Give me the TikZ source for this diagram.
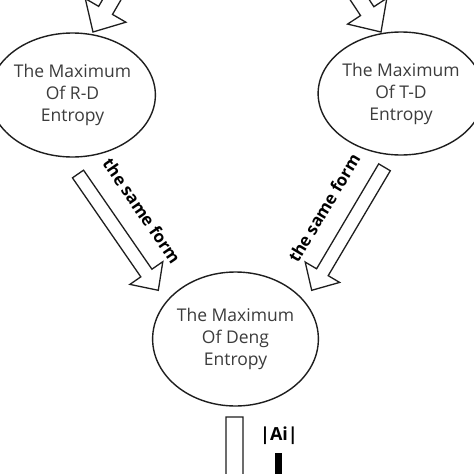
\documentclass[tikz,border=0pt]{standalone}
\usepackage{fontspec}
\setmainfont{Open Sans}
\usetikzlibrary{shapes.geometric,calc}
\definecolor{txtgray}{RGB}{60,60,60}
\definecolor{linec}{RGB}{30,30,30}
\tikzset{
  ent/.style={ellipse, draw=linec, line width=1.4pt, inner sep=0pt, align=center,
    text=txtgray, font=\fontsize{17.5}{22}\selectfont},
  barrowstyle/.style={draw=linec, line width=1.3pt, fill=white, line join=miter},
  formlabel/.style={font=\fontsize{16.8}{18}\selectfont\bfseries, text=black, inner sep=0pt},
  ailabel/.style={font=\fontsize{18}{20}\selectfont\bfseries, text=black, inner sep=0pt},
}
% #1 prefix, #2 tail, #3 tip, #4 half shaft, #5 half head, #6 head length
\newcommand\blockarrow[6]{%
  \path ($(#3)!#6!(#2)$) coordinate (#1h);
  \draw[barrowstyle] (#3) -- ($(#1h)!#5!90:(#3)$) -- ($(#1h)!#4!90:(#3)$)
    -- ($(#2)!#4!90:(#3)$) -- ($(#2)!#4!-90:(#3)$) -- ($(#1h)!#4!-90:(#3)$)
    -- ($(#1h)!#5!-90:(#3)$) -- cycle;
}
\begin{document}
\begin{tikzpicture}[x=1pt,y=-1pt]
  \useasboundingbox (0,0) rectangle (474,474);
  \fill[white] (0,0) rectangle (474,474);
  \clip (0,0) rectangle (474,474);

  % entropy ellipses
  \node[ent, minimum width=141pt, minimum height=124pt] (rd) at (72.5,95)
    {\raisebox{-2pt}{}The Maximum\\Of R-D\\Entropy};
  \node[ent, minimum width=142pt, minimum height=123pt] (td) at (401,93.5)
    {The Maximum\\Of T-D\\Entropy};
  \node[ent, minimum width=147pt, minimum height=134pt] (deng) at (235.5,339)
    {The Maximum\\Of Deng\\Entropy};

  % arrow end points
  \coordinate (tlS) at (158.4,-80.4);
  \coordinate (tlT) at (93,32);
  \coordinate (trS) at (309.4,-76.4);
  \coordinate (trT) at (381,32);
  \coordinate (mlS) at (78,174);
  \coordinate (mlT) at (158.3,290.3);
  \coordinate (mrS) at (384.5,167.3);
  \coordinate (mrT) at (311.7,290.3);
  \coordinate (bS) at (234.5,417);
  \coordinate (bT) at (234.5,560);

  \blockarrow{tl}{tlS}{tlT}{8pt}{23.5pt}{25pt}
  \blockarrow{tr}{trS}{trT}{8pt}{23.5pt}{25pt}
  \blockarrow{ml}{mlS}{mlT}{6.75pt}{20pt}{21pt}
  \blockarrow{mr}{mrS}{mrT}{6.75pt}{20pt}{21pt}
  \blockarrow{bt}{bS}{bT}{8.5pt}{24pt}{25pt}

  % labels
  \node[formlabel, rotate=-55.5] (lf) at (142,211) {the same form};
  \node[formlabel, rotate=59] (rf) at (324,208) {the same form};
  \node[ailabel] (ai) at (279,436) {|Ai|};

  % bar
  \fill[black] (275,453) rectangle (282,480);
\end{tikzpicture}
\end{document}
